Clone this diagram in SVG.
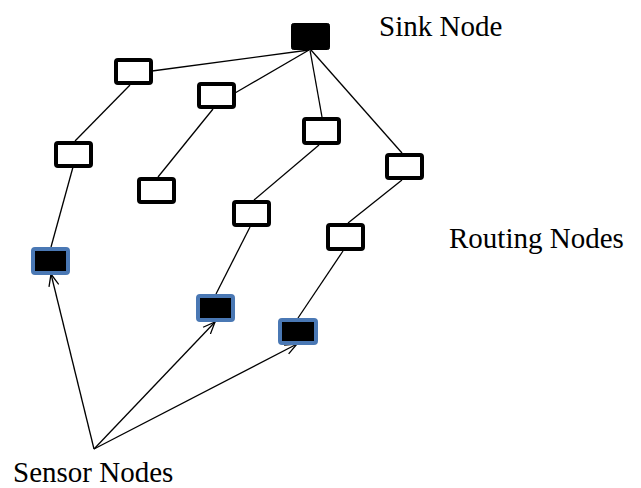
<svg xmlns="http://www.w3.org/2000/svg" width="641" height="488" viewBox="0 0 641 488">
  <style>
    .route { fill: #ffffff; stroke: #000000; stroke-width: 4; }
    .sink { fill: #000000; stroke: #000000; stroke-width: 1; }
    .sensor { fill: #000000; stroke: #4a78b4; stroke-width: 4; }
    .link { stroke: #000000; stroke-width: 1.3; fill: none; }
    .label { font-family: "Liberation Serif", "Times New Roman", serif; font-size: 29px; fill: #000000; }
  </style>
  <defs>
    <marker id="open-arrow" viewBox="0 0 12 12" refX="12" refY="6" markerWidth="12" markerHeight="12" markerUnits="userSpaceOnUse" orient="auto">
      <path d="M0,1 L12,6 L0,11" fill="none" stroke="#000000" stroke-width="1.3"/>
    </marker>
  </defs>
  <rect width="641" height="488" fill="#ffffff"/>

  <g id="connectors">
    <!-- tree links toward the sink -->
    <line class="link" x1="309" y1="50" x2="152" y2="71"/>
    <line class="link" x1="309" y1="50" x2="235" y2="93"/>
    <line class="link" x1="310" y1="50" x2="322" y2="117"/>
    <line class="link" x1="311" y1="50" x2="402" y2="153"/>
    <line class="link" x1="130" y1="85" x2="75" y2="141"/>
    <line class="link" x1="73" y1="167" x2="51" y2="247"/>
    <line class="link" x1="213" y1="109" x2="158" y2="177"/>
    <line class="link" x1="319" y1="145" x2="254" y2="200"/>
    <line class="link" x1="250" y1="227" x2="216" y2="294"/>
    <line class="link" x1="402" y1="180" x2="348" y2="223"/>
    <line class="link" x1="343" y1="251" x2="298" y2="318"/>
    <!-- callout arrows to the sensor nodes -->
    <line class="link" x1="94" y1="449" x2="51" y2="274" marker-end="url(#open-arrow)"/>
    <line class="link" x1="94" y1="449" x2="215" y2="322" marker-end="url(#open-arrow)"/>
    <line class="link" x1="94" y1="449" x2="297" y2="344" marker-end="url(#open-arrow)"/>
  </g>

  <g id="sink">
    <rect class="sink" x="291.5" y="23.5" width="38" height="26" rx="2"/>
  </g>

  <g id="routing-1"><rect class="route" x="116" y="60" width="35" height="23" rx="2"/></g>
  <g id="routing-2"><rect class="route" x="199" y="84" width="35" height="23" rx="2"/></g>
  <g id="routing-3"><rect class="route" x="56" y="143" width="35" height="23" rx="2"/></g>
  <g id="routing-4"><rect class="route" x="139" y="179" width="35" height="23" rx="2"/></g>
  <g id="routing-5"><rect class="route" x="304" y="119" width="35" height="24" rx="2"/></g>
  <g id="routing-6"><rect class="route" x="387" y="155" width="35" height="23" rx="2"/></g>
  <g id="routing-7"><rect class="route" x="234" y="202" width="35" height="23" rx="2"/></g>
  <g id="routing-8"><rect class="route" x="328" y="225" width="35" height="24" rx="2"/></g>

  <g id="sensor-1"><rect class="sensor" x="33" y="249" width="35" height="24" rx="2"/></g>
  <g id="sensor-2"><rect class="sensor" x="198" y="296" width="35" height="24" rx="2"/></g>
  <g id="sensor-3"><rect class="sensor" x="280" y="320" width="36" height="23" rx="2"/></g>

  <g id="labels">
    <text class="label" x="379" y="36">Sink Node</text>
    <text class="label" x="449" y="248">Routing Nodes</text>
    <text class="label" x="13" y="482">Sensor Nodes</text>
  </g>
</svg>
